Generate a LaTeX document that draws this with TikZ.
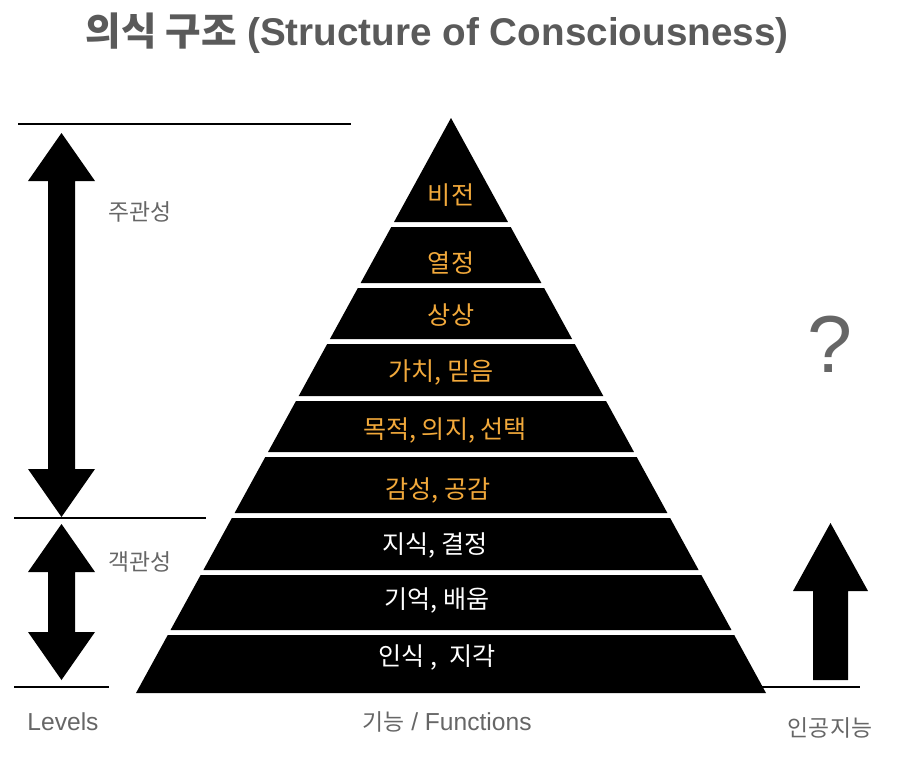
\documentclass[tikz,border=0pt]{standalone}
\usepackage{fontspec}
\setmainfont{Liberation Sans}
\newfontfamily\kr{Noto Sans CJK KR}
\usepackage{xcolor}
\definecolor{labelgray}{HTML}{666666}
\definecolor{titlegray}{HTML}{5A5A5A}
\definecolor{layergold}{HTML}{F2A93B}
\usetikzlibrary{positioning}

\begin{document}
\begin{tikzpicture}[x=0.02cm, y=-0.02cm,
    every node/.style={inner sep=0pt},
    layer/.style={fill=black},
    hitxt/.style={font=\kr\fontsize{14.3}{17}\selectfont, text=layergold},
    lotxt/.style={font=\kr\fontsize{14.3}{17}\selectfont, text=white},
    lbl/.style={font=\fontsize{14}{16}\selectfont, text=labelgray},
    krlbl/.style={font=\kr\fontsize{13}{15}\selectfont, text=labelgray},
    rule/.style={line width=1.1pt},
    blk/.style={fill=black}]
  \useasboundingbox (0,0) rectangle (910,764);
  % title
  \node[anchor=base, font=\bfseries\fontsize{22}{25}\selectfont, text=titlegray] (title) at (437,45)
       {{\kr\bfseries 의식 구조} (Structure of Consciousness)};
  % pyramid layers
  \foreach \t/\b in {118/222, 227/283, 288/339, 344/396, 401/452,
                     457/513, 518/570, 575/630, 635/693}{
    \pgfmathsetmacro\wt{(\t-118)/575*315}
    \pgfmathsetmacro\wb{(\b-118)/575*315}
    \fill[layer] (451-\wt,\t) -- (451+\wt,\t) -- (451+\wb,\b) -- (451-\wb,\b) -- cycle;
  }
  \node[hitxt] (vision)  at (451,195) {비전};
  \node[hitxt] (passion) at (451,263) {열정};
  \node[hitxt] (imagine) at (451,315) {상상};
  \node[hitxt] (value)   at (441,372) {가치, 믿음};
  \node[hitxt] (purpose) at (445,430) {목적, 의지, 선택};
  \node[hitxt] (emotion) at (438,490) {감성, 공감};
  \node[lotxt] (knowing) at (435,545) {지식, 결정};
  \node[lotxt] (memory)  at (437,600) {기억, 배움};
  \node[lotxt] (percept) at (437,657) {인식 ,\enspace 지각};
  % level rules
  \draw[rule] (18,124) -- (351,124);
  \draw[rule] (14,518) -- (206,518);
  \draw[rule] (14,687) -- (109,687);
  \draw[rule] (762,687) -- (860,687);
  % level arrows
  \fill[blk] (61.5,133) -- (95,181) -- (75,181) -- (75,469) -- (95,469) -- (61.5,517)
             -- (28,469) -- (48,469) -- (48,181) -- (28,181) -- cycle;
  \fill[blk] (61.5,524) -- (95,572) -- (75,572) -- (75,632) -- (95,632) -- (61.5,680)
             -- (28,632) -- (48,632) -- (48,572) -- (28,572) -- cycle;
  \fill[blk] (830.5,523) -- (868,591) -- (848,591) -- (848,680) -- (813,680)
             -- (813,591) -- (793,591) -- cycle;
  % labels
  \node[krlbl] (subj)   at (140,212) {주관성};
  \node[krlbl] (obj)    at (140,562) {객관성};
  \node[lbl]   (levels) at (63,722)  {Levels};
  \node[lbl]   (funcs)  at (447,722) {{\kr\fontsize{13}{15}\selectfont 기능} / Functions};
  \node[krlbl] (ai)     at (830,728) {인공지능};
  \node[font=\fontsize{46}{50}\selectfont, text=labelgray] (quest) at (830,344) {?};
\end{tikzpicture}
\end{document}
